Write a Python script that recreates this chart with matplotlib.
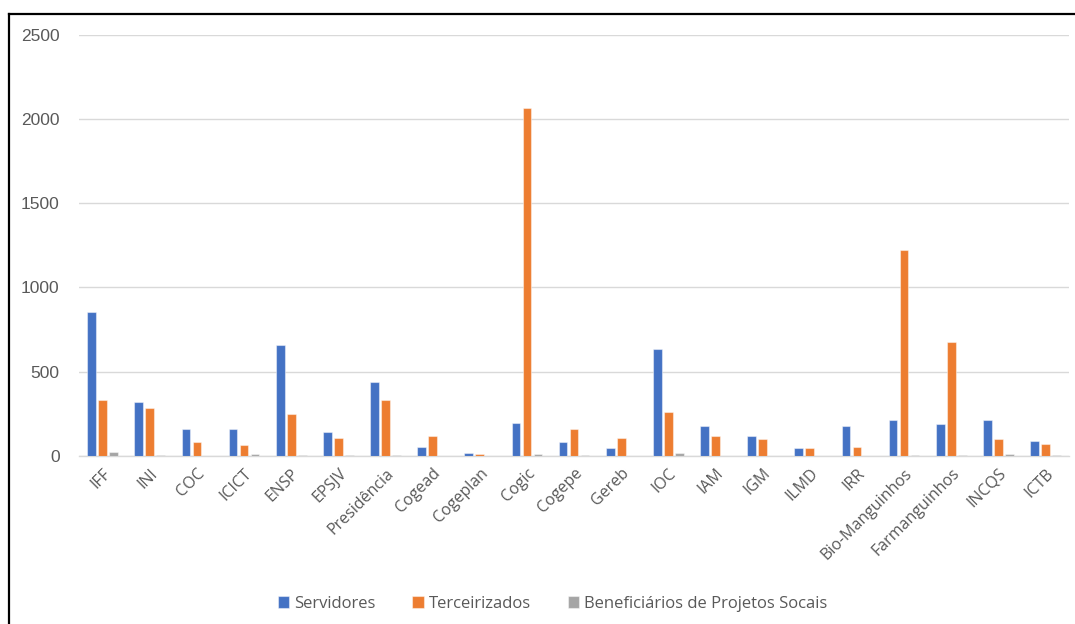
import numpy as np
import matplotlib.pyplot as plt
from matplotlib.lines import Line2D

# Unidades
unidades = ["IFF", "INI", "COC", "ICICT", "ENSP", "EPSJV", "Presidência", "Cogead",
            "Cogeplan", "Cogic", "Cogepe", "Gereb", "IOC", "IAM", "IGM", "ILMD", "IRR",
            "Bio-Manguinhos", "Farmanguinhos", "INCQS", "ICTB"]

servidores = [855, 318, 160, 160, 655, 138, 440, 52, 15, 195, 80, 45, 632, 175,
              118, 45, 175, 210, 188, 210, 88]
terceirizados = [333, 283, 80, 65, 245, 108, 333, 115, 10, 2065, 160, 108, 258, 115,
                 100, 45, 52, 1220, 675, 100, 72]
beneficiarios = [25, 2, 0, 8, 2, 2, 2, 0, 0, 8, 2, 0, 15, 0,
                 0, 0, 0, 2, 2, 8, 2]

series = ["Servidores", "Terceirizados", "Beneficiários de Projetos Socais"]
cores = ["#4472C4", "#ED7D31", "#A5A5A5"]

plt.rcParams['font.family'] = ['Open Sans', 'DejaVu Sans']

fig = plt.figure(figsize=(10.75, 6.24), dpi=100)
ax = fig.add_axes([0.0735, 0.2697, 0.921, 0.6742])

x = np.arange(len(unidades))
largura = 0.185
passo = 0.233
for i, (valores, nome, cor) in enumerate(zip([servidores, terceirizados, beneficiarios], series, cores)):
    ax.bar(x + (i - 1) * passo, valores, width=largura, color=cor, label=nome,
           edgecolor=(1, 1, 1, 0.45), linewidth=0.8, zorder=3)

ax.set_xlim(-0.5, len(unidades) - 0.5)
ax.set_ylim(0, 2500)
ax.set_yticks([0, 500, 1000, 1500, 2000, 2500])
ax.grid(axis='y', color='#D9D9D9', linewidth=1, zorder=0)
for s in ['top', 'right', 'left']:
    ax.spines[s].set_visible(False)
ax.spines['bottom'].set_color('#D9D9D9')
ax.spines['bottom'].set_linewidth(1)

ax.set_xticks(x)
ax.set_xticklabels(unidades, rotation=45, ha='right', va='top', rotation_mode='anchor',
                   fontsize=11.5, color='#595959')
ax.tick_params(axis='x', length=0, pad=7)
ax.tick_params(axis='y', length=0, pad=14, labelsize=12.5, labelcolor='#595959')
for lbl in ax.get_yticklabels():
    lbl.set_family(['Liberation Sans', 'DejaVu Sans'])

ax.legend(loc='center', bbox_to_anchor=(0.514, 0.032), bbox_transform=fig.transFigure,
          ncol=3, frameon=False, fontsize=12, handlelength=0.7, handleheight=0.7,
          handletextpad=0.3, columnspacing=2.2, labelcolor='#595959')

# moldura
fig.add_artist(Line2D([9 / 1075, 1.0], [1 - 14 / 624, 1 - 14 / 624], color='black',
                      linewidth=1.6, transform=fig.transFigure))
fig.add_artist(Line2D([9 / 1075, 9 / 1075], [0.0, 1 - 14 / 624], color='black',
                      linewidth=1.6, transform=fig.transFigure))

fig.savefig("out.png", dpi=100)
